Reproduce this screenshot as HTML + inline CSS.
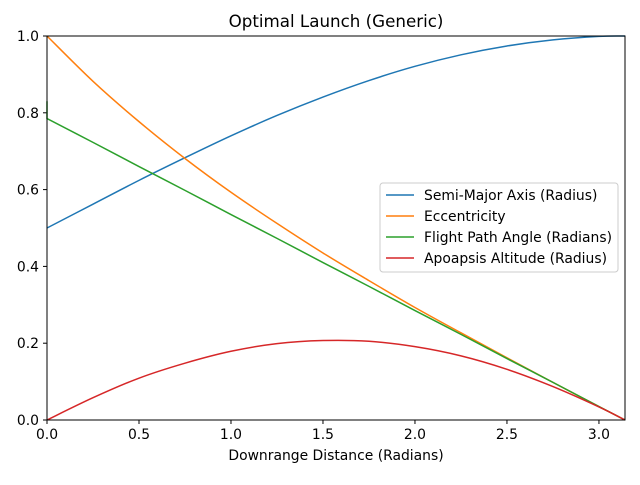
<!DOCTYPE html>
<html><head><meta charset="utf-8"><style>
body{margin:0;background:#fff}
svg text{font-family:"DejaVu Sans","Liberation Sans",sans-serif;fill:#000}
</style></head><body>
<svg id="chart" width="640" height="480" xmlns="http://www.w3.org/2000/svg">
<rect width="640" height="480" fill="#fff"/>
<text x="336" y="27" font-size="16.7" text-anchor="middle">Optimal Launch (Generic)</text>
<text x="336" y="460" font-size="13.9" text-anchor="middle">Downrange Distance (Radians)</text>
<g id="ticks"></g>
<g id="series"></g>
<rect x="47" y="36" width="578" height="384" fill="none" stroke="#000" stroke-width="1"/>
<g id="legend"></g>
</svg>
<script>
const xs=[0,0.25,0.5,0.75,1.0,1.25,1.5,1.75,2.0,2.25,2.5,2.75,3.0,3.14159];
const semiMajor=[0.5,0.562,0.624,0.683,0.740,0.793,0.841,0.884,0.921,0.951,0.974,0.990,0.999,1.0];
const eccentricity=[1.0,0.882,0.777,0.681,0.593,0.512,0.435,0.363,0.293,0.227,0.162,0.098,0.035,0.0];
const flightPath=[0.785,0.723,0.660,0.598,0.535,0.473,0.410,0.348,0.285,0.223,0.160,0.098,0.035,0.0];
const apoapsis=[0.0,0.058,0.109,0.148,0.179,0.199,0.207,0.205,0.191,0.167,0.132,0.087,0.034,0.0];
const xTicks=[0,0.5,1.0,1.5,2.0,2.5,3.0];
const xTickLabels=["0.0","0.5","1.0","1.5","2.0","2.5","3.0"];
const yTicks=[0,0.2,0.4,0.6,0.8,1.0];
const yTickLabels=["0.0","0.2","0.4","0.6","0.8","1.0"];
const seriesNames=["Semi-Major Axis (Radius)","Eccentricity","Flight Path Angle (Radians)","Apoapsis Altitude (Radius)"];
const colors=["#1f77b4","#ff7f0e","#2ca02c","#d62728"];
const NS="http://www.w3.org/2000/svg";
const X=v=>47+v/3.14159*578, Y=v=>420-v*384;
function mk(t,a,p){const e=document.createElementNS(NS,t);for(const k in a)e.setAttribute(k,a[k]);p.appendChild(e);return e;}
const tg=document.getElementById('ticks');
xTicks.forEach((v,i)=>{
 const l=mk('line',{x1:X(v),x2:X(v),y1:420,y2:424,stroke:'#000'},tg);
 
 
 const t=mk('text',{x:X(v),y:439,'font-size':13.9,'text-anchor':'middle'},tg);t.textContent=xTickLabels[i];
 
 
});
yTicks.forEach((v,i)=>{
 const l=mk('line',{x1:43,x2:47,y1:Y(v),y2:Y(v),stroke:'#000'},tg);
 
 
 const t=mk('text',{x:39,y:Y(v)+5,'font-size':13.9,'text-anchor':'end'},tg);t.textContent=yTickLabels[i];
 
 
});
function smooth(p){
 let d='M'+p[0][0]+','+p[0][1];
 for(let i=0;i<p.length-1;i++){
  const p0=p[Math.max(i-1,0)],p1=p[i],p2=p[i+1],p3=p[Math.min(i+2,p.length-1)];
  const c1=[p1[0]+(p2[0]-p0[0])/6,p1[1]+(p2[1]-p0[1])/6];
  const c2=[p2[0]-(p3[0]-p1[0])/6,p2[1]-(p3[1]-p1[1])/6];
  d+=' C'+c1+' '+c2+' '+p2;
 }
 return d;
}
const sg=document.getElementById('series');
const all=[semiMajor,eccentricity,flightPath,apoapsis];
const names=['semi-major-axis-line','eccentricity-line','flight-path-angle-line','apoapsis-altitude-line'];
all.forEach((s,k)=>{
 let pts=xs.map((x,i)=>[X(x),Y(s[i])]);
 let d=smooth(pts);
 if(k===2) d='M'+X(0)+','+Y(0.83)+' L'+X(0)+','+Y(s[0])+' '+d.slice(1).replace(/^[^C]*/,'');
 const p=mk('path',{d:d,fill:'none',stroke:colors[k],'stroke-width':1.5},sg);
 
 
});
const lg=document.getElementById('legend');
mk('rect',{x:380,y:183,width:238,height:89,rx:3,fill:'#fff','fill-opacity':0.8,stroke:'#ccc'},lg);
seriesNames.forEach((n,i)=>{
 const y=195+i*21;
 const l=mk('line',{x1:386,x2:414,y1:y,y2:y,stroke:colors[i],'stroke-width':1.5},lg);
 
 
 const t=mk('text',{x:424,y:y+5,'font-size':13.9},lg);t.textContent=n;
 
 
});
</script>
</body></html>
